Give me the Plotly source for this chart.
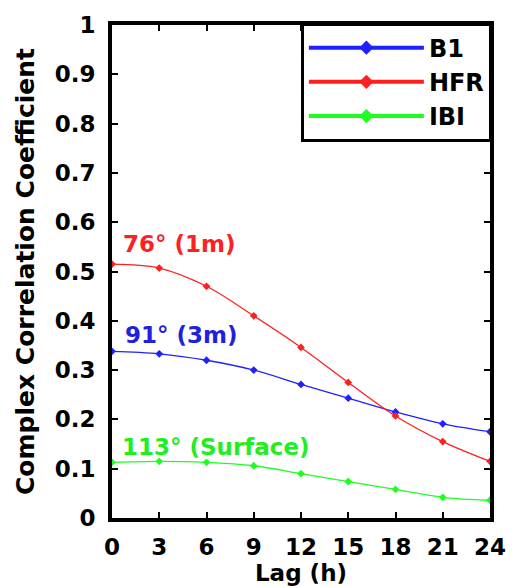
import plotly.graph_objects as go

lag = [0, 3, 6, 9, 12, 15, 18, 21, 24]
b1 = [0.338, 0.333, 0.320, 0.300, 0.271, 0.243, 0.215, 0.191, 0.175]
hfr = [0.515, 0.507, 0.470, 0.410, 0.346, 0.275, 0.207, 0.155, 0.115]
ibi = [0.113, 0.115, 0.113, 0.106, 0.090, 0.074, 0.058, 0.042, 0.036]

series_names = ["B1", "HFR", "IBI"]
series_values = [b1, hfr, ibi]
series_colors = ["#1f1fff", "#ff1f1f", "#1fff1f"]

labels = ["76° (1m)", "91° (3m)", "113° (Surface)"]
label_x = [0.6, 0.7, 0.5]
label_y = [0.556, 0.371, 0.145]
label_colors = ["#ff2020", "#2020e0", "#20ee20"]

x_ticks = [0, 3, 6, 9, 12, 15, 18, 21, 24]
y_ticks = [0, 0.1, 0.2, 0.3, 0.4, 0.5, 0.6, 0.7, 0.8, 0.9, 1]
y_ticktext = ["0", "0.1", "0.2", "0.3", "0.4", "0.5", "0.6", "0.7", "0.8", "0.9", "1"]

FONT = "DejaVu Sans"

fig = go.Figure()
for name, vals, col in zip(series_names, series_values, series_colors):
    fig.add_trace(go.Scatter(
        x=lag, y=vals, mode="lines+markers", name=name, showlegend=False,
        line=dict(color=col, width=1.3, shape="spline"),
        marker=dict(symbol="diamond", size=6, color=col),
    ))
for name, col in zip(series_names, series_colors):
    fig.add_trace(go.Scatter(
        x=[None], y=[None], mode="lines+markers", name=name, showlegend=True,
        line=dict(color=col, width=4),
        marker=dict(symbol="diamond", size=11, color=col),
    ))

for txt, xx, yy, col in zip(labels, label_x, label_y, label_colors):
    fig.add_annotation(x=xx, y=yy, text=txt, showarrow=False, xanchor="left", yanchor="middle",
                       font=dict(family=FONT, size=23, color=col, weight="bold"))

axis_common = dict(
    showline=True, linecolor="black", linewidth=4, mirror="ticks",
    ticks="inside", ticklen=6, tickwidth=1.5, tickcolor="black",
    showgrid=False, zeroline=False,
    tickfont=dict(family=FONT, size=23, color="black", weight="bold"),
)

fig.update_xaxes(range=[0, 24], tickvals=x_ticks, ticklabelstandoff=5,
                 title=dict(text="Lag (h)", font=dict(family=FONT, size=23, color="black", weight="bold"), standoff=0),
                 **axis_common)
fig.update_yaxes(range=[0, 1], tickvals=y_ticks, ticktext=y_ticktext, ticklabelstandoff=8,
                 title=dict(text="Complex Correlation Coefficient", font=dict(family=FONT, size=25, color="black", weight="bold"), standoff=14),
                 **axis_common)

fig.update_layout(
    width=520, height=588,
    margin=dict(l=112, r=30, t=22, b=68),
    plot_bgcolor="white", paper_bgcolor="white",
    legend=dict(x=1.005, y=1.005, xanchor="right", yanchor="top",
                bgcolor="white", bordercolor="black", borderwidth=3,
                font=dict(family=FONT, size=24, color="black", weight="bold"),
                itemwidth=115, tracegroupgap=0),
)

fig.write_html("out.html")
